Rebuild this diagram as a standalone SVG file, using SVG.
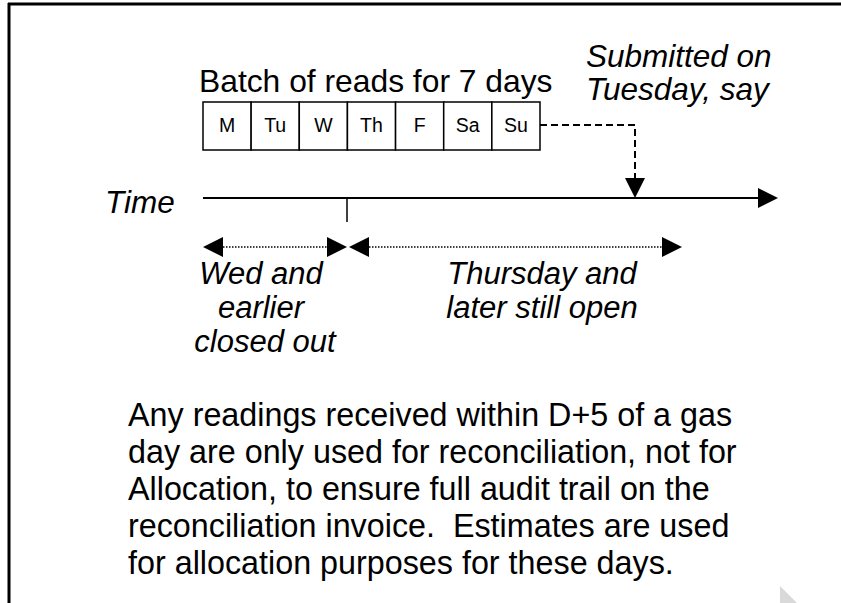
<svg xmlns="http://www.w3.org/2000/svg" width="841" height="603" viewBox="0 0 841 603">
  <style>
    .lbl { font-family: "Liberation Sans", Arial, sans-serif; fill: #000; }
    .it { font-style: italic; font-size: 31.5px; }
    .low { font-style: italic; font-size: 31px; text-anchor: middle; }
    .cell rect { fill: #fff; stroke: #000; stroke-width: 1.5; }
    .cell text { font-size: 19.5px; text-anchor: middle; }
    .ln { stroke: #000; fill: none; }
    .head { fill: #000; }
  </style>

  <!-- page frame -->
  <g id="frame">
    <path class="ln" d="M8,4 H841" stroke-width="3"/>
    <path class="ln" d="M9,3 V603" stroke-width="3"/>
    <polygon points="780,586 780,603 797,603" fill="#d9d9d9"/>
  </g>

  <!-- weekly batch -->
  <g id="batch">
    <text class="lbl" x="199" y="92" font-size="31.8">Batch of reads for 7 days</text>
    <g class="cell lbl">
      <rect x="203" y="102" width="48.14" height="48"/>
      <rect x="251.14" y="102" width="48.14" height="48"/>
      <rect x="299.28" y="102" width="48.14" height="48"/>
      <rect x="347.42" y="102" width="48.14" height="48"/>
      <rect x="395.56" y="102" width="48.14" height="48"/>
      <rect x="443.7" y="102" width="48.14" height="48"/>
      <rect x="491.84" y="102" width="48.16" height="48"/>
      <text x="227.07" y="132">M</text>
      <text x="275.21" y="132">Tu</text>
      <text x="323.35" y="132">W</text>
      <text x="371.49" y="132">Th</text>
      <text x="419.63" y="132">F</text>
      <text x="467.77" y="132">Sa</text>
      <text x="515.92" y="132">Su</text>
    </g>
  </g>

  <g id="submitted">
    <text class="lbl it" x="586" y="67">Submitted on</text>
    <text class="lbl it" x="586" y="100">Tuesday, say</text>
  </g>

  <g id="time-label">
    <text class="lbl it" x="105" y="213" font-size="30">Time</text>
  </g>

  <g id="closed">
    <text class="lbl low" x="261" y="284">Wed and</text>
    <text class="lbl low" x="261" y="318">earlier</text>
    <text class="lbl low" x="265" y="352">closed out</text>
  </g>

  <g id="open">
    <text class="lbl low" x="542" y="284">Thursday and</text>
    <text class="lbl low" x="542" y="318">later still open</text>
  </g>

  <g id="note">
    <text class="lbl" font-size="32.3">
      <tspan x="128" y="426">Any readings received within D+5 of a gas</tspan>
      <tspan x="128" y="463">day are only used for reconciliation, not for</tspan>
      <tspan x="128" y="500">Allocation, to ensure full audit trail on the</tspan>
      <tspan x="128" y="537" xml:space="preserve">reconciliation invoice.  Estimates are used</tspan>
      <tspan x="128" y="574">for allocation purposes for these days.</tspan>
    </text>
  </g>

  <!-- connectors -->
  <g id="connectors">
    <!-- time axis -->
    <path class="ln" d="M203,198 H760" stroke-width="2"/>
    <polygon class="head" points="758,188 778,198 758,208"/>
    <!-- cut-off tick -->
    <path class="ln" d="M347,198 V222" stroke-width="1.5"/>
    <!-- submission -->
    <path class="ln" d="M540,125 H635 V178" stroke-width="2" stroke-dasharray="7,4"/>
    <polygon class="head" points="625,178 645,178 635,198"/>
    <!-- closed span -->
    <path class="ln" d="M223,247 H327" stroke-width="1.5" stroke-dasharray="1.5,1.5"/>
    <polygon class="head" points="203,247 223,237 223,257"/>
    <polygon class="head" points="347,247 327,237 327,257"/>
    <!-- open span -->
    <path class="ln" d="M369,247 H662" stroke-width="1.5" stroke-dasharray="1.5,1.5"/>
    <polygon class="head" points="349,247 369,237 369,257"/>
    <polygon class="head" points="682,247 662,237 662,257"/>
  </g>
</svg>
